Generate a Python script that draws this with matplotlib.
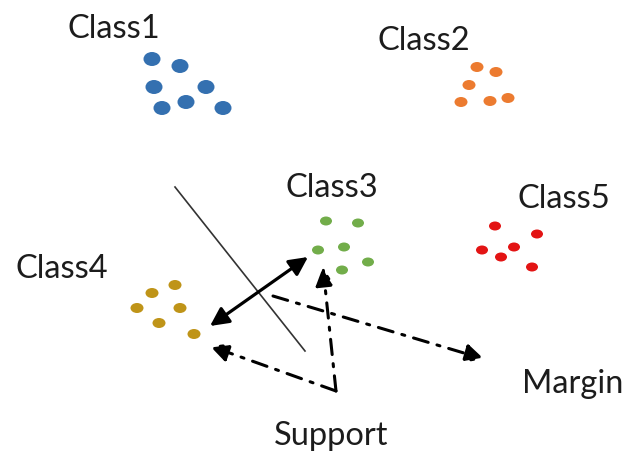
import matplotlib.pyplot as plt
from matplotlib.patches import Ellipse

# pixel-like coordinates (y grows downward)
class_names = ["Class1", "Class2", "Class3", "Class4", "Class5"]
class_colors = ["#3470b0", "#ec7b30", "#72ad4a", "#bf9418", "#e31414"]

class1_x = [152, 180, 154, 206, 162, 186, 223]
class1_y = [60, 67, 88, 88, 109, 103, 109]
class2_x = [477, 496, 469, 461, 490, 508]
class2_y = [68, 73, 86, 103, 102, 99]
class3_x = [326, 358, 318, 344, 368, 342]
class3_y = [222, 224, 251, 248, 263, 271]
class4_x = [175, 152, 137, 180, 159, 194]
class4_y = [286, 294, 309, 309, 324, 335]
class5_x = [495, 537, 482, 514, 501, 532]
class5_y = [227, 235, 251, 248, 258, 268]

dot_w = [17, 13, 12, 13, 12]
dot_h = [14, 10, 9, 10, 9]

label_x = [114, 424, 332, 62, 564]
label_y = [38, 50, 197, 278, 208]

margin_label = (573, 393)
support_label = (331, 445)

# lines
sep_line = [(175, 188), (305, 352)]
double_arrow = [(210, 327), (308, 258)]
vertex = (336, 392)
left_tip = (210, 347)
up_tip = (323, 268)
long_start = (273, 297)
long_tip = (484, 360)

fig = plt.figure(figsize=(6.3, 4.52), dpi=100)
ax = fig.add_axes([0, 0, 1, 1])
ax.set_xlim(0, 630)
ax.set_ylim(452, 0)
ax.axis("off")

xs = [class1_x, class2_x, class3_x, class4_x, class5_x]
ys = [class1_y, class2_y, class3_y, class4_y, class5_y]
for i in range(5):
    for x, y in zip(xs[i], ys[i]):
        ax.add_patch(Ellipse((x, y), dot_w[i], dot_h[i], color=class_colors[i], lw=0))
    ax.text(label_x[i], label_y[i], class_names[i], ha="center", va="baseline",
            fontsize=23.5, family="Lato", color="#1c1c1c")

ax.text(margin_label[0], margin_label[1], "Margin", ha="center", va="baseline",
        fontsize=23.5, family="Lato", color="#1c1c1c")
ax.text(support_label[0], support_label[1], "Support", ha="center", va="baseline",
        fontsize=23.5, family="Lato", color="#1c1c1c")

ax.plot([sep_line[0][0], sep_line[1][0]], [sep_line[0][1], sep_line[1][1]],
        color="#333333", lw=1.2)

ax.annotate("", xy=double_arrow[1], xytext=double_arrow[0],
            arrowprops=dict(arrowstyle="<|-|>", lw=2.3, color="black",
                            mutation_scale=28, shrinkA=0, shrinkB=0))

dashdot = (0, (5, 3, 1, 3))
for start, tip in [(vertex, left_tip), (vertex, up_tip), (long_start, long_tip)]:
    ax.annotate("", xy=tip, xytext=start,
                arrowprops=dict(arrowstyle="-|>", lw=2.2, color="black",
                                linestyle=dashdot, mutation_scale=28,
                                shrinkA=0, shrinkB=0))

fig.savefig("out.png", dpi=100)
